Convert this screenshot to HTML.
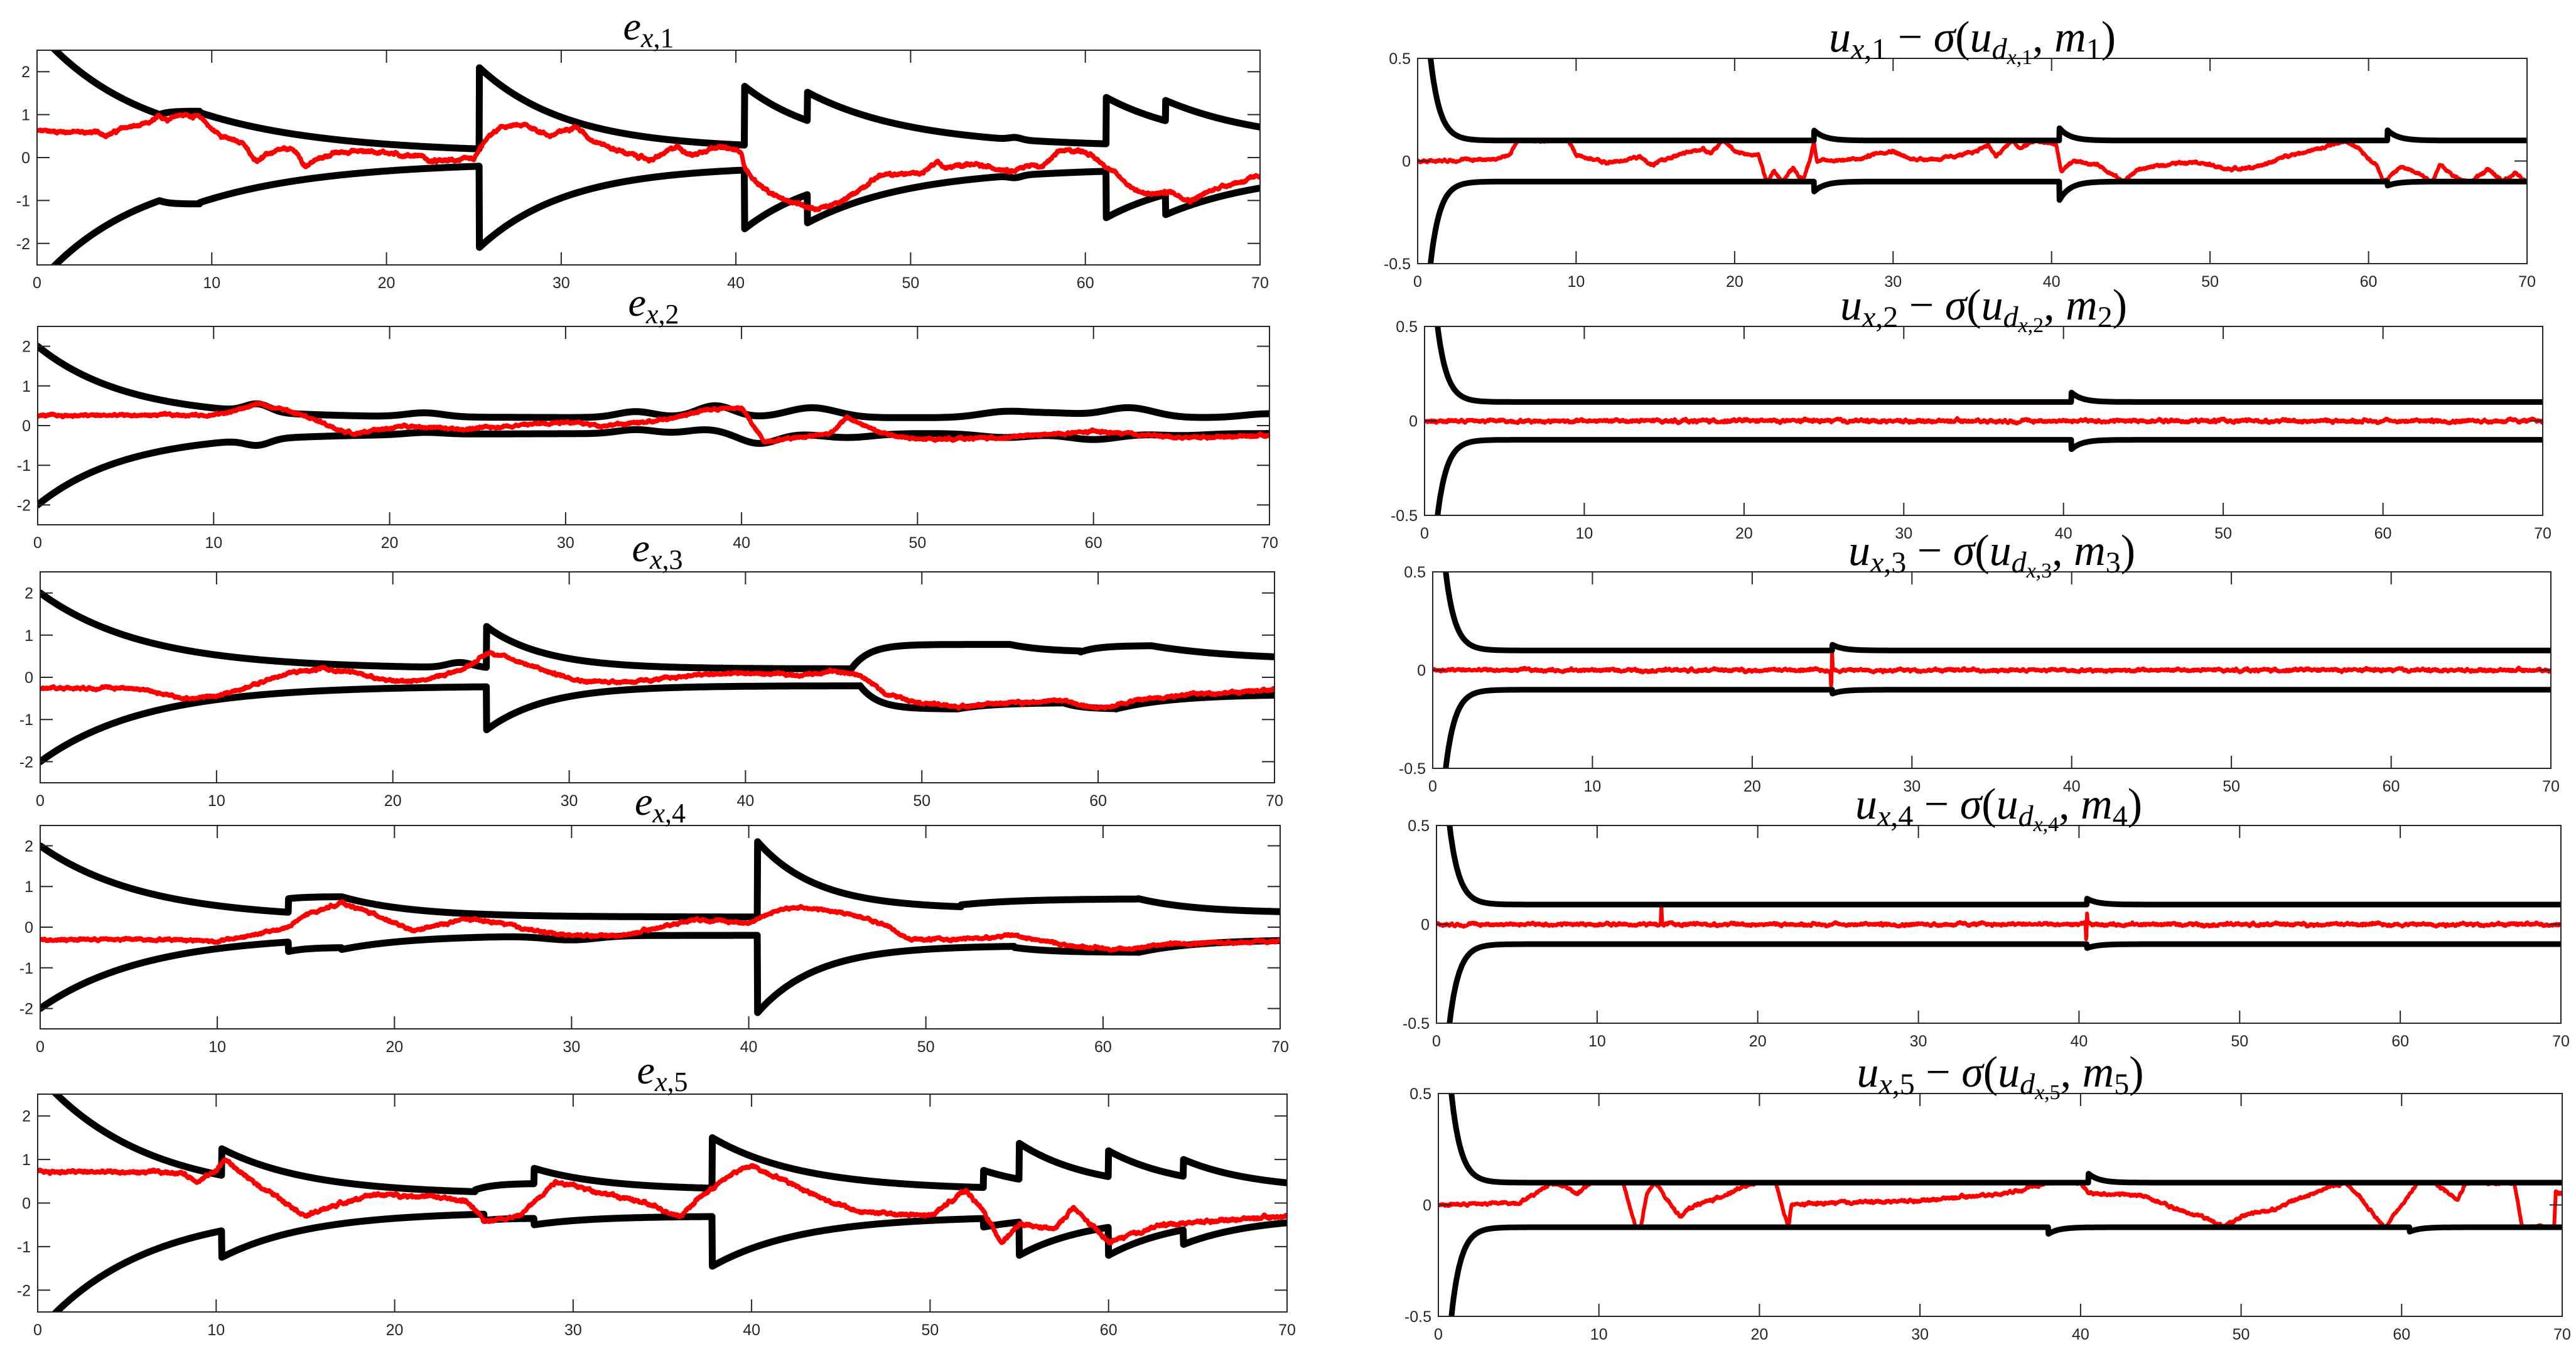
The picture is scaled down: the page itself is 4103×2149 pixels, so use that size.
<!DOCTYPE html>
<html><head><meta charset="utf-8">
<style>
html,body{margin:0;padding:0;background:#fff;width:4103px;height:2149px;overflow:hidden;position:relative;}
#plot{position:absolute;left:0;top:0;display:block;overflow:hidden;}
.tk{font-family:"Liberation Sans",sans-serif;font-size:25px;fill:#262626;}
.ti{font-family:"Liberation Serif",serif;font-size:64px;fill:#000;}
.tr{font-family:"Liberation Serif",serif;font-size:70px;fill:#000;}
</style></head><body>
<svg id="plot" width="4103" height="2149" viewBox="0 0 4103 2149" xmlns="http://www.w3.org/2000/svg">
<rect x="0" y="0" width="4103" height="2149" fill="#fff"/>
<g id="curves"></g>

<svg x="59" y="80" width="1948" height="342" overflow="visible">
<text class="ti" x="50%" y="-17" text-anchor="middle"><tspan font-style="italic">e</tspan><tspan font-size="44" dy="12" font-style="italic">x</tspan><tspan font-size="44">,1</tspan></text>
<g class="tk" text-anchor="middle"><text x="0%" y="100%" dy="37">0</text><text x="14.2857%" y="100%" dy="37">10</text><text x="28.5714%" y="100%" dy="37">20</text><text x="42.8571%" y="100%" dy="37">30</text><text x="57.1429%" y="100%" dy="37">40</text><text x="71.4286%" y="100%" dy="37">50</text><text x="85.7143%" y="100%" dy="37">60</text><text x="100%" y="100%" dy="37">70</text></g>
<g class="tk" text-anchor="end"><text x="-11" y="10%" dy="9">2</text><text x="-11" y="30%" dy="9">1</text><text x="-11" y="50%" dy="9">0</text><text x="-11" y="70%" dy="9">-1</text><text x="-11" y="90%" dy="9">-2</text></g>
</svg>
<svg x="60" y="520" width="1962" height="316" overflow="visible">
<text class="ti" x="50%" y="-17" text-anchor="middle"><tspan font-style="italic">e</tspan><tspan font-size="44" dy="12" font-style="italic">x</tspan><tspan font-size="44">,2</tspan></text>
<g class="tk" text-anchor="middle"><text x="0%" y="100%" dy="37">0</text><text x="14.2857%" y="100%" dy="37">10</text><text x="28.5714%" y="100%" dy="37">20</text><text x="42.8571%" y="100%" dy="37">30</text><text x="57.1429%" y="100%" dy="37">40</text><text x="71.4286%" y="100%" dy="37">50</text><text x="85.7143%" y="100%" dy="37">60</text><text x="100%" y="100%" dy="37">70</text></g>
<g class="tk" text-anchor="end"><text x="-11" y="10%" dy="9">2</text><text x="-11" y="30%" dy="9">1</text><text x="-11" y="50%" dy="9">0</text><text x="-11" y="70%" dy="9">-1</text><text x="-11" y="90%" dy="9">-2</text></g>
</svg>
<svg x="64" y="911" width="1966" height="336" overflow="visible">
<text class="ti" x="50%" y="-17" text-anchor="middle"><tspan font-style="italic">e</tspan><tspan font-size="44" dy="12" font-style="italic">x</tspan><tspan font-size="44">,3</tspan></text>
<g class="tk" text-anchor="middle"><text x="0%" y="100%" dy="37">0</text><text x="14.2857%" y="100%" dy="37">10</text><text x="28.5714%" y="100%" dy="37">20</text><text x="42.8571%" y="100%" dy="37">30</text><text x="57.1429%" y="100%" dy="37">40</text><text x="71.4286%" y="100%" dy="37">50</text><text x="85.7143%" y="100%" dy="37">60</text><text x="100%" y="100%" dy="37">70</text></g>
<g class="tk" text-anchor="end"><text x="-11" y="10%" dy="9">2</text><text x="-11" y="30%" dy="9">1</text><text x="-11" y="50%" dy="9">0</text><text x="-11" y="70%" dy="9">-1</text><text x="-11" y="90%" dy="9">-2</text></g>
</svg>
<svg x="64" y="1315" width="1975" height="324" overflow="visible">
<text class="ti" x="50%" y="-17" text-anchor="middle"><tspan font-style="italic">e</tspan><tspan font-size="44" dy="12" font-style="italic">x</tspan><tspan font-size="44">,4</tspan></text>
<g class="tk" text-anchor="middle"><text x="0%" y="100%" dy="37">0</text><text x="14.2857%" y="100%" dy="37">10</text><text x="28.5714%" y="100%" dy="37">20</text><text x="42.8571%" y="100%" dy="37">30</text><text x="57.1429%" y="100%" dy="37">40</text><text x="71.4286%" y="100%" dy="37">50</text><text x="85.7143%" y="100%" dy="37">60</text><text x="100%" y="100%" dy="37">70</text></g>
<g class="tk" text-anchor="end"><text x="-11" y="10%" dy="9">2</text><text x="-11" y="30%" dy="9">1</text><text x="-11" y="50%" dy="9">0</text><text x="-11" y="70%" dy="9">-1</text><text x="-11" y="90%" dy="9">-2</text></g>
</svg>
<svg x="60" y="1743" width="1990" height="347" overflow="visible">
<text class="ti" x="50%" y="-17" text-anchor="middle"><tspan font-style="italic">e</tspan><tspan font-size="44" dy="12" font-style="italic">x</tspan><tspan font-size="44">,5</tspan></text>
<g class="tk" text-anchor="middle"><text x="0%" y="100%" dy="37">0</text><text x="14.2857%" y="100%" dy="37">10</text><text x="28.5714%" y="100%" dy="37">20</text><text x="42.8571%" y="100%" dy="37">30</text><text x="57.1429%" y="100%" dy="37">40</text><text x="71.4286%" y="100%" dy="37">50</text><text x="85.7143%" y="100%" dy="37">60</text><text x="100%" y="100%" dy="37">70</text></g>
<g class="tk" text-anchor="end"><text x="-11" y="10%" dy="9">2</text><text x="-11" y="30%" dy="9">1</text><text x="-11" y="50%" dy="9">0</text><text x="-11" y="70%" dy="9">-1</text><text x="-11" y="90%" dy="9">-2</text></g>
</svg>

<svg x="2258" y="93" width="1767" height="327" overflow="visible">
<text class="tr" x="50%" y="-11" text-anchor="middle"><tspan font-style="italic">u</tspan><tspan font-size="48" dy="12" font-style="italic">x</tspan><tspan font-size="48">,1</tspan><tspan dy="-12"> − </tspan><tspan font-style="italic">σ</tspan><tspan>(</tspan><tspan font-style="italic">u</tspan><tspan font-size="48" dy="12" font-style="italic">d</tspan><tspan font-size="34" dy="8" font-style="italic">x</tspan><tspan font-size="34">,1</tspan><tspan dy="-20">, </tspan><tspan font-style="italic">m</tspan><tspan font-size="48" dy="12">1</tspan><tspan dy="-12">)</tspan></text>
<g class="tk" text-anchor="middle"><text x="0%" y="100%" dy="37">0</text><text x="14.2857%" y="100%" dy="37">10</text><text x="28.5714%" y="100%" dy="37">20</text><text x="42.8571%" y="100%" dy="37">30</text><text x="57.1429%" y="100%" dy="37">40</text><text x="71.4286%" y="100%" dy="37">50</text><text x="85.7143%" y="100%" dy="37">60</text><text x="100%" y="100%" dy="37">70</text></g>
<g class="tk" text-anchor="end"><text x="-11" y="0%" dy="9">0.5</text><text x="-11" y="50%" dy="9">0</text><text x="-11" y="100%" dy="9">-0.5</text></g>
</svg>
<svg x="2269" y="520" width="1781" height="301" overflow="visible">
<text class="tr" x="50%" y="-11" text-anchor="middle"><tspan font-style="italic">u</tspan><tspan font-size="48" dy="12" font-style="italic">x</tspan><tspan font-size="48">,2</tspan><tspan dy="-12"> − </tspan><tspan font-style="italic">σ</tspan><tspan>(</tspan><tspan font-style="italic">u</tspan><tspan font-size="48" dy="12" font-style="italic">d</tspan><tspan font-size="34" dy="8" font-style="italic">x</tspan><tspan font-size="34">,2</tspan><tspan dy="-20">, </tspan><tspan font-style="italic">m</tspan><tspan font-size="48" dy="12">2</tspan><tspan dy="-12">)</tspan></text>
<g class="tk" text-anchor="middle"><text x="0%" y="100%" dy="37">0</text><text x="14.2857%" y="100%" dy="37">10</text><text x="28.5714%" y="100%" dy="37">20</text><text x="42.8571%" y="100%" dy="37">30</text><text x="57.1429%" y="100%" dy="37">40</text><text x="71.4286%" y="100%" dy="37">50</text><text x="85.7143%" y="100%" dy="37">60</text><text x="100%" y="100%" dy="37">70</text></g>
<g class="tk" text-anchor="end"><text x="-11" y="0%" dy="9">0.5</text><text x="-11" y="50%" dy="9">0</text><text x="-11" y="100%" dy="9">-0.5</text></g>
</svg>
<svg x="2282" y="911" width="1781" height="313" overflow="visible">
<text class="tr" x="50%" y="-11" text-anchor="middle"><tspan font-style="italic">u</tspan><tspan font-size="48" dy="12" font-style="italic">x</tspan><tspan font-size="48">,3</tspan><tspan dy="-12"> − </tspan><tspan font-style="italic">σ</tspan><tspan>(</tspan><tspan font-style="italic">u</tspan><tspan font-size="48" dy="12" font-style="italic">d</tspan><tspan font-size="34" dy="8" font-style="italic">x</tspan><tspan font-size="34">,3</tspan><tspan dy="-20">, </tspan><tspan font-style="italic">m</tspan><tspan font-size="48" dy="12">3</tspan><tspan dy="-12">)</tspan></text>
<g class="tk" text-anchor="middle"><text x="0%" y="100%" dy="37">0</text><text x="14.2857%" y="100%" dy="37">10</text><text x="28.5714%" y="100%" dy="37">20</text><text x="42.8571%" y="100%" dy="37">30</text><text x="57.1429%" y="100%" dy="37">40</text><text x="71.4286%" y="100%" dy="37">50</text><text x="85.7143%" y="100%" dy="37">60</text><text x="100%" y="100%" dy="37">70</text></g>
<g class="tk" text-anchor="end"><text x="-11" y="0%" dy="9">0.5</text><text x="-11" y="50%" dy="9">0</text><text x="-11" y="100%" dy="9">-0.5</text></g>
</svg>
<svg x="2288" y="1315" width="1791" height="315" overflow="visible">
<text class="tr" x="50%" y="-11" text-anchor="middle"><tspan font-style="italic">u</tspan><tspan font-size="48" dy="12" font-style="italic">x</tspan><tspan font-size="48">,4</tspan><tspan dy="-12"> − </tspan><tspan font-style="italic">σ</tspan><tspan>(</tspan><tspan font-style="italic">u</tspan><tspan font-size="48" dy="12" font-style="italic">d</tspan><tspan font-size="34" dy="8" font-style="italic">x</tspan><tspan font-size="34">,4</tspan><tspan dy="-20">, </tspan><tspan font-style="italic">m</tspan><tspan font-size="48" dy="12">4</tspan><tspan dy="-12">)</tspan></text>
<g class="tk" text-anchor="middle"><text x="0%" y="100%" dy="37">0</text><text x="14.2857%" y="100%" dy="37">10</text><text x="28.5714%" y="100%" dy="37">20</text><text x="42.8571%" y="100%" dy="37">30</text><text x="57.1429%" y="100%" dy="37">40</text><text x="71.4286%" y="100%" dy="37">50</text><text x="85.7143%" y="100%" dy="37">60</text><text x="100%" y="100%" dy="37">70</text></g>
<g class="tk" text-anchor="end"><text x="-11" y="0%" dy="9">0.5</text><text x="-11" y="50%" dy="9">0</text><text x="-11" y="100%" dy="9">-0.5</text></g>
</svg>
<svg x="2291" y="1742" width="1790" height="355" overflow="visible">
<text class="tr" x="50%" y="-11" text-anchor="middle"><tspan font-style="italic">u</tspan><tspan font-size="48" dy="12" font-style="italic">x</tspan><tspan font-size="48">,5</tspan><tspan dy="-12"> − </tspan><tspan font-style="italic">σ</tspan><tspan>(</tspan><tspan font-style="italic">u</tspan><tspan font-size="48" dy="12" font-style="italic">d</tspan><tspan font-size="34" dy="8" font-style="italic">x</tspan><tspan font-size="34">,5</tspan><tspan dy="-20">, </tspan><tspan font-style="italic">m</tspan><tspan font-size="48" dy="12">5</tspan><tspan dy="-12">)</tspan></text>
<g class="tk" text-anchor="middle"><text x="0%" y="100%" dy="37">0</text><text x="14.2857%" y="100%" dy="37">10</text><text x="28.5714%" y="100%" dy="37">20</text><text x="42.8571%" y="100%" dy="37">30</text><text x="57.1429%" y="100%" dy="37">40</text><text x="71.4286%" y="100%" dy="37">50</text><text x="85.7143%" y="100%" dy="37">60</text><text x="100%" y="100%" dy="37">70</text></g>
<g class="tk" text-anchor="end"><text x="-11" y="0%" dy="9">0.5</text><text x="-11" y="50%" dy="9">0</text><text x="-11" y="100%" dy="9">-0.5</text></g>
</svg>
</svg>

<script>
(function(){
var NS="http://www.w3.org/2000/svg";
var G=document.getElementById('curves');
var seed=12345;
function rnd(){seed=(seed*1103515245+12345)%2147483648;return seed/2147483648;}
function bound(ev,bumps){
  return function(t){
    var e=null;for(var i=0;i<ev.length;i++){if(ev[i][0]<=t)e=ev[i];}
    if(!e)e=ev[0];
    var v=e[2]+(e[1]-e[2])*Math.exp(-e[3]*(t-e[0]));
    if(bumps)for(var j=0;j<bumps.length;j++){var b=bumps[j];var z=(t-b[0])/b[2];v+=b[1]*Math.exp(-z*z);}
    return v;
  };
}
function mirror(f){return function(t){return -f(t);};}
function kp(pts){
  return function(t){
    if(t<=pts[0][0])return pts[0][1];
    for(var i=1;i<pts.length;i++){if(t<=pts[i][0]){var a=pts[i-1],b=pts[i];var r=(t-a[0])/((b[0]-a[0])||1e-9);return a[1]+(b[1]-a[1])*r;}}
    return pts[pts.length-1][1];
  };
}
function el(n,a){var e=document.createElementNS(NS,n);for(var k in a)e.setAttribute(k,a[k]);return e;}
var cid=0;
function panel(p){
  var X=function(t){return p.x0+t/70*(p.x1-p.x0);};
  var Y=function(v){return p.y0+(p.ymax-v)/(p.ymax-p.ymin)*(p.y1-p.y0);};
  cid++;
  var cp=el('clipPath',{id:'c'+cid});cp.appendChild(el('rect',{x:p.x0,y:p.y0,width:p.x1-p.x0,height:p.y1-p.y0}));G.appendChild(cp);
  var g=el('g',{'clip-path':'url(#c'+cid+')','stroke-linejoin':'round','stroke-linecap':'round',fill:'none'});
  G.appendChild(g);
  function draw(f,col,w){
    var d='';for(var t=0;t<=70.0001;t+=0.02){d+=(d?'L':'M')+X(t).toFixed(1)+' '+Y(f(t)).toFixed(1);}
    g.appendChild(el('path',{d:d,stroke:col,'stroke-width':w}));
  }
  var ar=0;
  var red=function(t){
    var v=p.red(t);
    ar=0.85*ar+(rnd()-0.5)*p.na;
    v+=ar+(rnd()-0.5)*p.na*0.6;
    if(p.clamp){var u=p.up(t)-0.002,l=p.lo(t)+0.002;if(v>u)v=u;if(v<l)v=l;}
    return v;
  };
  if(p.redTop){draw(p.up,'#000',p.bw);draw(p.lo,'#000',p.bw);draw(red,'#f00',p.rw);}
  else{draw(red,'#f00',p.rw);draw(p.up,'#000',p.bw);draw(p.lo,'#000',p.bw);}
  var ax=el('g',{stroke:'#262626','stroke-width':2,fill:'none'});
  ax.appendChild(el('rect',{x:p.x0,y:p.y0,width:p.x1-p.x0,height:p.y1-p.y0}));
  var d='';
  for(var i=0;i<=70;i+=10){var x=X(i).toFixed(1);d+='M'+x+' '+p.y1+'V'+(p.y1-20)+'M'+x+' '+p.y0+'V'+(p.y0+20);}
  p.yt.forEach(function(v){var y=Y(v).toFixed(1);d+='M'+p.x0+' '+y+'H'+(p.x0+20)+'M'+p.x1+' '+y+'H'+(p.x1-20);});
  ax.appendChild(el('path',{d:d}));
  G.appendChild(ax);
}
var LT=[-2,-1,0,1,2],RT=[-0.5,0,0.5];
var u1=bound([[0,2.96,.15,.17],[7,1.0,1.08,2],[9.3,1.05,.1,.14],[25.3,2.1,.2,.2],[40.5,1.66,.2,.22],[44.1,1.52,.25,.17],[61.2,1.4,.3,.2],[64.6,1.33,.3,.17]],[[56,.05,.5]]);
panel({x0:59,x1:2007,y0:80,y1:422,ymin:-2.5,ymax:2.5,yt:LT,bw:11,rw:7,na:.035,redTop:true,up:u1,lo:mirror(u1),
 red:kp([[0,.62],[2,.6],[3.5,.58],[4,.53],[4.5,.6],[5,.7],[6,.75],[6.5,.82],[7,.95],[7.5,.9],[8,1.0],[9,.97],[9.5,.9],[10,.65],[11,.42],[11.8,.35],[12.3,0],[12.6,-.05],[13.3,.1],[14.3,.2],[14.8,.15],[15.3,-.2],[16,-.05],[17,.1],[18,.15],[19,.15],[20,.12],[21,.05],[22,.05],[22.5,-.1],[24,-.05],[25,-.05],[25.5,.3],[26,.55],[26.7,.72],[28,.75],[29.4,.5],[30.8,.74],[31.6,.45],[33,.2],[34.1,.06],[35.2,-.06],[36.6,.26],[37.5,.05],[38.8,.26],[40.3,.15],[40.5,-.23],[40.9,-.47],[42,-.86],[43,-1.0],[44.6,-1.2],[46,-1.05],[48.2,-.42],[50.7,-.35],[51.5,-.08],[52,-.25],[53.2,-.15],[54.9,-.25],[56,-.3],[56.9,-.15],[57.4,-.25],[58.6,.16],[59.9,.16],[60.5,0],[61.3,-.23],[62.7,-.71],[63.5,-.86],[64.9,-.8],[66,-1.0],[67.7,-.68],[69.3,-.52],[70,-.42]])});
panel({x0:60,x1:2022,y0:520,y1:836,ymin:-2.5,ymax:2.5,yt:LT,bw:11,rw:7,na:.03,redTop:true,
 up:bound([[0,2,.2,.2]],[[12.5,.2,1],[22,.1,1.5],[34,.15,1.5],[38.5,.3,1.5],[44,.25,2],[55,.15,2],[58,.1,2],[62,.25,2],[70,.1,2]]),
 lo:bound([[0,-2,-.2,.2]],[[12.5,-.15,1],[22,.05,1.5],[34,.1,1.5],[38,.1,1.5],[41,-.25,1.5],[46,-.1,2],[55,-.1,2],[60,-.15,2],[65,-.05,2]]),
 red:kp([[0,.25],[10,.27],[11,.35],[12.5,.55],[15,.3],[17,-.1],[18,-.2],[21,0],[24,-.1],[27,0],[30,.1],[32,0],[35,.1],[38,.4],[40,.45],[40.8,-.1],[41.3,-.4],[43,-.3],[45,-.2],[46,.2],[48,-.2],[50,-.35],[55,-.3],[60,-.15],[65,-.3],[70,-.25]])});
panel({x0:64,x1:2030,y0:911,y1:1247,ymin:-2.5,ymax:2.5,yt:LT,bw:11,rw:7,na:.03,redTop:true,
 up:bound([[0,2,.2,.17],[25.3,1.2,.2,.3],[46,.2,.78,1.0],[55,.78,.6,.5],[59,.6,.75,1],[63,.75,.4,.2]],[[23.8,.12,1]]),
 lo:bound([[0,-2,-.2,.17],[25.3,-1.25,-.2,.3],[46.5,-.2,-.75,1],[52,-.75,-.6,.5],[58,-.6,-.75,1],[61,-.75,-.4,.3]]),
 red:kp([[0,-.25],[5,-.25],[6,-.3],[8,-.5],[10,-.45],[12,-.2],[14,.1],[16,.2],[18,.1],[20,-.1],[22,-.05],[24,.2],[25.5,.6],[27,.4],[29,.1],[31,-.1],[34,-.1],[37,.05],[40,.1],[43,.05],[45,.15],[46.5,.05],[48,-.4],[50,-.6],[52,-.7],[55,-.6],[58,-.55],[60,-.75],[62,-.55],[65,-.4],[68,-.35],[70,-.3]])});
panel({x0:64,x1:2039,y0:1315,y1:1639,ymin:-2.5,ymax:2.5,yt:LT,bw:11,rw:7,na:.03,redTop:true,
 up:bound([[0,2,.2,.17],[14,.7,.75,1],[17,.75,.25,.25],[40.5,2.1,.45,.3],[52,.55,.7,.3],[62,.7,.35,.3]]),
 lo:bound([[0,-2,-.2,.17],[14,-.6,-.5,1],[17,-.55,-.2,.25],[40.5,-2.1,-.45,.3],[55,-.5,-.62,.5],[62,-.62,-.3,.3]],[[30,-.1,2]]),
 red:kp([[0,-.3],[8,-.3],[10,-.35],[12,-.2],[14,0],[15,.3],[17,.6],[19,.3],[21,-.1],[24,.2],[26,.1],[28,-.1],[30,-.2],[33,-.2],[35,0],[37,.2],[40,.1],[41.5,.4],[43,.5],[46,.3],[48,0],[49,-.3],[52,-.3],[55,-.2],[58,-.45],[61,-.55],[64,-.4],[70,-.35]])});
panel({x0:60,x1:2050,y0:1743,y1:2090,ymin:-2.5,ymax:2.5,yt:LT,bw:11,rw:7,na:.035,redTop:true,
 up:bound([[0,2.96,.15,.17],[10.3,1.25,.2,.2],[24.5,.3,.45,1],[27.8,.8,.3,.25],[37.8,1.5,.3,.2],[53,.75,.3,.3],[55,1.37,.3,.25],[60,1.2,.3,.25],[64.2,1.0,.3,.25]]),
 lo:bound([[0,-2.96,-.15,.17],[10.3,-1.25,-.2,.2],[25,-.4,-.35,1],[27.8,-.5,-.3,.3],[37.8,-1.45,-.3,.2],[53,-.55,-.3,.3],[55,-1.2,-.3,.25],[60,-1.2,-.3,.25],[64.2,-.95,-.3,.25]]),
 red:kp([[0,.72],[8,.7],[9,.5],[10,.75],[10.5,1.0],[12,.5],[14,0],[15,-.3],[17,0],[19,.2],[22,.15],[24,.05],[25,-.4],[27,-.3],[28,.1],[29,.5],[31,.3],[34,0],[36,-.3],[37,.1],[39,.7],[40,.85],[42,.5],[44,.1],[46,-.2],[50,-.3],[52,.3],[53,-.2],[54,-.9],[55,-.5],[57,-.6],[58,-.1],[60,-.9],[63,-.5],[66,-.4],[70,-.3]])});
function rb(sp){var e=[[0,1.7,.1,1.7]];sp.forEach(function(s){e.push([s[0],s[1],.1,1.5]);});return bound(e);}
function rbl(sp){var e=[[0,-1.7,-.1,1.7]];sp.forEach(function(s){e.push([s[0],s[1],-.1,1.5]);});return bound(e);}
panel({x0:2258,x1:4025,y0:93,y1:420,ymin:-.5,ymax:.5,yt:RT,bw:9,rw:6,na:.006,clamp:true,
 up:rb([[25,.15],[40.5,.16],[61.2,.15]]),lo:rbl([[25,-.15],[40.5,-.19],[61.2,-.12]]),
 red:kp([[0,0],[5,.01],[5.8,.03],[6.3,.1],[9.5,.1],[10,.03],[11,.01],[12,-.01],[14,.02],[14.8,-.02],[16,.02],[18,.06],[18.5,.04],[19.3,.1],[20,.05],[21,.03],[21.5,.03],[22,-.1],[22.5,-.05],[23,-.1],[23.7,-.03],[24.3,-.1],[24.8,.02],[25,.1],[25.2,0],[28,.01],[29,.04],[30,.05],[31,.01],[33,.01],[35,.04],[36,.08],[36.5,.02],[37.5,.1],[38,.06],[39,.1],[40.3,.08],[40.6,-.05],[41.5,0],[43,-.02],[44.5,-.1],[45.5,-.04],[47,-.02],[49,0],[51,-.04],[53,-.03],[55,.03],[57,.06],[58.5,.1],[59.5,.05],[60.5,-.02],[61,-.1],[62,-.03],[63,-.05],[64,-.1],[64.5,-.02],[65.5,-.08],[66.5,-.1],[67.5,-.04],[68.5,-.1],[69.3,-.06],[70,-.1]])});
panel({x0:2269,x1:4050,y0:520,y1:821,ymin:-.5,ymax:.5,yt:RT,bw:9,rw:6,na:.008,clamp:true,
 up:rb([[40.5,.15]]),lo:rbl([[40.5,-.15]]),red:kp([[0,0],[70,0]])});
panel({x0:2282,x1:4063,y0:911,y1:1224,ymin:-.5,ymax:.5,yt:RT,bw:9,rw:6,na:.007,clamp:true,
 up:rb([[25,.13]]),lo:rbl([[25,-.12]]),red:kp([[0,0],[24.9,0],[24.95,-.1],[25,.1],[25.05,0],[70,0]])});
panel({x0:2288,x1:4079,y0:1315,y1:1630,ymin:-.5,ymax:.5,yt:RT,bw:9,rw:6,na:.007,clamp:true,
 up:rb([[40.5,.13]]),lo:rbl([[40.5,-.12]]),red:kp([[0,0],[13.95,0],[14,.1],[14.05,0],[40.4,0],[40.45,-.1],[40.5,.05],[40.55,0],[70,0]])});
panel({x0:2291,x1:4081,y0:1742,y1:2097,ymin:-.5,ymax:.5,yt:RT,bw:9,rw:6,na:.006,clamp:true,
 up:rb([[40.5,.14]]),lo:rbl([[38,-.13],[60.5,-.12]]),
 red:kp([[0,0],[5,.01],[6,.05],[7,.1],[8,.08],[8.7,.05],[9.5,.1],[11.5,.1],[12.3,-.1],[12.6,-.1],[13,.05],[13.5,.1],[14,.05],[15,-.05],[16,0],[17,.02],[18,.05],[19,.08],[20,.1],[21,.1],[21.8,-.1],[22,0],[25,.01],[30,.02],[35,.05],[37,.08],[38,.1],[40,.1],[40.5,.05],[42,.05],[44,.04],[46,-.02],[47.5,-.05],[49,-.1],[50,-.05],[52,-.02],[54,.04],[55.5,.08],[56.5,.1],[57.5,.03],[58.3,-.05],[59,-.1],[60.5,.05],[61,.1],[62,.1],[63,.05],[63.5,.03],[64,.1],[67,.1],[67.5,-.1],[69.5,-.1],[69.6,.06],[70,.05]])});
})();
</script>
</body></html>
